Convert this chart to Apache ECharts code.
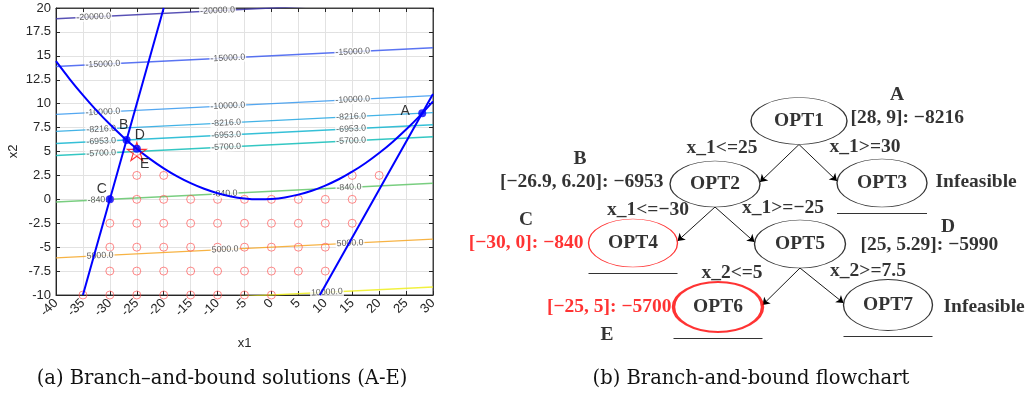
<!DOCTYPE html>
<html><head><meta charset="utf-8">
<script src="https://cdn.jsdelivr.net/npm/echarts@6/dist/echarts.min.js"></script>
<style>html,body{margin:0;padding:0;background:#fff}#c{width:1027px;height:398px}</style>
</head><body><div id="c"></div><script>
// ---------- Panel (a) data ----------
const parabolaX1 = [-40,-37.5,-35,-32.5,-30,-27.5,-25,-22.5,-20,-17.5,-15,-12.5,-10,-7.5,-5,-2.5,0,2.5,5,7.5,10,12.5,15,17.5,20,22.5,25,27.5,30];
const parabolaX2 = [14.44,12.60,10.89,9.30,7.84,6.50,5.29,4.20,3.24,2.40,1.69,1.10,0.64,0.30,0.09,0.00,0.04,0.20,0.49,0.90,1.44,2.10,2.89,3.80,4.84,6.00,7.29,8.70,10.24];
const steepLineX1 = [-35, -20];
const steepLineX2 = [-10, 20];
const rightLineX1 = [9, 30];
const rightLineX2 = [-10, 11];
const contourLevels   = [-20000, -15000, -10000, -8216, -6953, -5700, -840, 5000, 10000];
const contourX2AtLeft  = [18.88, 13.88, 8.88, 7.10, 5.83, 4.58, -0.28, -6.12, -11.12]; // x1 = -40
const contourX2AtRight = [20.84, 15.84, 10.84, 9.06, 7.79, 6.54, 1.68, -4.16, -9.16];   // x1 = 30
const contourLabelX1 = [[-33,-10],[-31.3,-8.1,15.1],[-31.3,-8.1,15.1],[-31.6,-8.4,14.8],[-31.6,-8.4,14.8],[-31.6,-8.4,14.8],[-31.8,-8.6,14.4],[-31.8,-8.6,14.6],[10.3]];
const circleX1 = [-25,-25,-20,15,20, -30,-25,-20,-15,-10,-5,0,5,10,15, -30,-25,-20,-15,-10,-5,0,5,10,15, -30,-25,-20,-15,-10,-5,0,5,10, -30,-25,-20,-15,-10,-5,0,5,10, -35,-30,-25,-20,-15,-10,-5,0];
const circleX2 = [5,2.5,2.5,2.5,2.5, 0,0,0,0,0,0,0,0,0,0, -2.5,-2.5,-2.5,-2.5,-2.5,-2.5,-2.5,-2.5,-2.5,-2.5, -5,-5,-5,-5,-5,-5,-5,-5,-5, -7.5,-7.5,-7.5,-7.5,-7.5,-7.5,-7.5,-7.5,-7.5, -10,-10,-10,-10,-10,-10,-10,-10];
const pointNames = ['A','B','C','D'];
const pointX1 = [28, -26.9, -30, -25];
const pointX2 = [9, 6.2, 0, 5.29];
const starName = ['E'];
const starX1 = [-25];
const starX2 = [5];

// ---------- Panel (b) data ----------
const nodeNames = ['OPT1','OPT2','OPT3','OPT4','OPT5','OPT6','OPT7'];
const nodeResults = ['[28, 9]: \u22128216','[\u221226.9, 6.20]: \u22126953','Infeasible','[\u221230, 0]: \u2212840','[25, 5.29]: \u22125990','[\u221225, 5]: \u22125700','Infeasible'];
const nodeTags = ['A','B','','C','D','E',''];
const edgeFrom = ['OPT1','OPT1','OPT2','OPT2','OPT5','OPT5'];
const edgeTo   = ['OPT2','OPT3','OPT4','OPT5','OPT6','OPT7'];
const edgeLabels = ['x_1<=25','x_1>=30','x_1<=\u221230','x_1>=\u221225','x_2<=5','x_2>=7.5'];
const leafNodes = ['OPT3','OPT4','OPT6','OPT7'];

// ---------- styles / layout ----------
const contourColors = ['#3b33a8','#3d5cf0','#3598ee','#22a6e2','#12b5d0','#10bdb8','#62c66a','#f6a623','#eeee1c'];
const G = {left:56, top:8, width:377, height:287};
const nodeLayout = {
  OPT1:{c:[799,121], s:[96,47]}, OPT2:{c:[715,184], s:[90,46]}, OPT3:{c:[882,183], s:[90,48]},
  OPT4:{c:[633,243], s:[89,48], color:'#ff0000'}, OPT5:{c:[800,244], s:[91,48]},
  OPT6:{c:[718,307], s:[89,50], color:'#ff0000', w:2.6}, OPT7:{c:[888,305], s:[89,51]}
};
const resultLayout = [[850,118,'left'],[664,182,'right'],[935,182,'left'],[584,243,'right'],[860,245,'left'],[672,307,'right'],[943,307,'left']];
const resultColor = ['#000','#000','#000','#ff0000','#000','#ff0000','#000'];
const tagLayout = [[897,95],[580,159],null,[526,220],[948,227],[607,335],null];
const edgeLabelLayout = [[722,148],[865,147],[648,210],[783,208],[732,273],[868,271]];

const FS = 'Liberation Sans';
const SERIF = 'Liberation Serif';
const ellipsePath = 'path://M1,0C1,0.5523,0.5523,1,0,1C-0.5523,1,-1,0.5523,-1,0C-1,-0.5523,-0.5523,-1,0,-1C0.5523,-1,1,-0.5523,1,0Z';
const starPath = 'path://M0,-1L0.2245,-0.309L0.951,-0.309L0.363,0.118L0.588,0.809L0,0.382L-0.588,0.809L-0.363,0.118L-0.951,-0.309L-0.2245,-0.309Z';

const series = [];
// contour lines
contourLevels.forEach((lv, i) => {
  series.push({type:'line', xAxisIndex:0, yAxisIndex:0, silent:true, symbol:'none', clip:true, z:2,
    data:[[-40, contourX2AtLeft[i]],[30, contourX2AtRight[i]]],
    lineStyle:{color:contourColors[i], width:1.4, opacity:0.85}});
});
// contour labels
const labData = [];
contourLevels.forEach((lv, i) => {
  contourLabelX1[i].forEach(lx => {
    const t = (lx + 40) / 70;
    const y = contourX2AtLeft[i] + t * (contourX2AtRight[i] - contourX2AtLeft[i]);
    const ang = Math.atan(((contourX2AtRight[i]-contourX2AtLeft[i])/70) * (G.height/30) / (G.width/70)) * 180 / Math.PI;
    labData.push({value:[lx, y], name: lv.toFixed(1), label:{rotate: ang}});
  });
});
series.push({type:'scatter', xAxisIndex:0, yAxisIndex:0, silent:true, symbolSize:1, z:2,
  itemStyle:{color:'transparent'}, data:labData,
  label:{show:true, position:'inside', formatter:'{b}', fontFamily:FS, fontSize:8.8, color:'#333',
    backgroundColor:'#fff', padding:[0,1]}});
// red circles
series.push({type:'scatter', xAxisIndex:0, yAxisIndex:0, silent:true, symbol:'circle', symbolSize:8, z:2,
  data: circleX1.map((x,i)=>[x, circleX2[i]]),
  itemStyle:{color:'transparent', borderColor:'#ff5050', borderWidth:0.8, opacity:0.85}});
// blue curves
const blue = {color:'#0000ff', width:2};
series.push({type:'line', xAxisIndex:0, yAxisIndex:0, silent:true, symbol:'none', smooth:0.3, z:3,
  data: parabolaX1.map((x,i)=>[x, parabolaX2[i]]), lineStyle:blue});
series.push({type:'line', xAxisIndex:0, yAxisIndex:0, silent:true, symbol:'none', z:3,
  data: steepLineX1.map((x,i)=>[x, steepLineX2[i]]), lineStyle:blue});
series.push({type:'line', xAxisIndex:0, yAxisIndex:0, silent:true, symbol:'none', z:3,
  data: rightLineX1.map((x,i)=>[x, rightLineX2[i]]), lineStyle:blue});
// star E
series.push({type:'scatter', xAxisIndex:0, yAxisIndex:0, silent:true, symbol:starPath, symbolKeepAspect:true, symbolSize:19, z:4,
  data: starX1.map((x,i)=>({value:[x, starX2[i]], name:starName[i]})),
  itemStyle:{color:'transparent', borderColor:'#ff0000', borderWidth:1.1},
  label:{show:true, formatter:'{b}', position:'inside', offset:[8,13], fontFamily:FS, fontSize:14, color:'#000'}});
// solution points
const ptOffsets = {A:[-17,-2], B:[-3,-15], C:[-8,-10], D:[3,-14]};
series.push({type:'scatter', xAxisIndex:0, yAxisIndex:0, silent:true, symbol:'circle', symbolSize:8, z:5,
  data: pointX1.map((x,i)=>({value:[x, pointX2[i]], name:pointNames[i], label:{offset:ptOffsets[pointNames[i]]}})),
  itemStyle:{color:'#0000ff'},
  label:{show:true, formatter:'{b}', position:'inside', fontFamily:FS, fontSize:14, color:'#000'}});

// ---------- Panel (b) ----------
series.push({type:'scatter', xAxisIndex:1, yAxisIndex:1, silent:true, symbol:ellipsePath, z:3,
  data: nodeNames.map(n => ({value: nodeLayout[n].c, name:n, symbolSize: nodeLayout[n].s,
    itemStyle:{color:'#fff', borderColor: nodeLayout[n].color || '#000', borderWidth: nodeLayout[n].w || 1}})),
  label:{show:true, position:'inside', formatter:'{b}', fontFamily:SERIF, fontWeight:'bold', fontSize:19.5, color:'#000'}});
// arrows
series.push({type:'lines', coordinateSystem:'cartesian2d', xAxisIndex:1, yAxisIndex:1, silent:true, z:2,
  symbol:['none','arrow'], symbolSize:7,
  lineStyle:{color:'#000', width:0.9, opacity:1},
  data: edgeFrom.map((f,i) => {
    const a = nodeLayout[f], b = nodeLayout[edgeTo[i]];
    const sx = a.c[0], sy = a.c[1] + a.s[1]/2;
    const ex = b.c[0] < sx ? b.c[0] + b.s[0]/2 : b.c[0] - b.s[0]/2;
    return {coords:[[sx, sy],[ex, b.c[1]-2]]};
  })});
// underlines
series.push({type:'lines', coordinateSystem:'cartesian2d', xAxisIndex:1, yAxisIndex:1, silent:true, z:2,
  symbol:['none','none'], lineStyle:{color:'#333', width:1.2, opacity:1},
  data: leafNodes.map(n => { const L = nodeLayout[n]; const y = L.c[1] + L.s[1]/2 + 6;
    return {coords:[[L.c[0]-L.s[0]/2, y],[L.c[0]+L.s[0]/2, y]]}; })});
// texts
const txt = [];
nodeResults.forEach((r,i) => {
  const L = resultLayout[i];
  txt.push({value:[L[0], L[1]], name:r, label:{position: L[2]==='left' ? 'right' : 'left', distance:0, color: resultColor[i]}});
});
nodeTags.forEach((t,i) => { if (t) txt.push({value: tagLayout[i], name:t, label:{position:'inside'}}); });
edgeLabels.forEach((t,i) => txt.push({value: edgeLabelLayout[i], name:t, label:{position:'inside'}}));
series.push({type:'scatter', xAxisIndex:1, yAxisIndex:1, silent:true, symbolSize:1, z:4,
  itemStyle:{color:'transparent'}, data: txt,
  label:{show:true, formatter:'{b}', fontFamily:SERIF, fontWeight:'bold', fontSize:19.5, color:'#000'}});

const axisCol = '#262626';
const option = {
  animation:false,
  backgroundColor:'#fff',
  title:[
    {text:'(a) Branch\u2013and-bound solutions (A-E)', left:217, top:364, textAlign:'center',
      textStyle:{fontFamily:'DejaVu Serif', fontWeight:'normal', fontSize:19.5, color:'#111'}},
    {text:'(b) Branch-and-bound flowchart', left:746, top:364, textAlign:'center',
      textStyle:{fontFamily:'DejaVu Serif', fontWeight:'normal', fontSize:19.5, color:'#111'}}
  ],
  grid:[
    {left:G.left, top:G.top, width:G.width, height:G.height, show:true, borderColor:'#404040', borderWidth:1, backgroundColor:'#fff', containLabel:false, outerBoundsMode:'none'},
    {left:460, top:0, width:567, height:398, show:false, containLabel:false, outerBoundsMode:'none'}
  ],
  xAxis:[
    {type:'value', gridIndex:0, min:-40, max:30, interval:5, position:'bottom',
      axisLine:{show:true, onZero:false, lineStyle:{color:axisCol, width:1}},
      axisTick:{show:true, inside:true, length:4, lineStyle:{color:axisCol}},
      axisLabel:{rotate:45, fontFamily:FS, fontSize:13, color:axisCol, margin:6},
      splitLine:{show:true, lineStyle:{color:'#e2e2e2', width:1}},
      name:'x1', nameLocation:'middle', nameGap:42, nameTextStyle:{fontFamily:FS, fontSize:13, color:axisCol}},
    {type:'value', gridIndex:1, min:460, max:1027, show:false},
    {type:'value', gridIndex:0, min:-40, max:30, interval:5, position:'top',
      axisLine:{show:true, onZero:false, lineStyle:{color:'#404040', width:1}},
      axisTick:{show:true, inside:true, length:4, lineStyle:{color:axisCol}},
      axisLabel:{show:false}, splitLine:{show:false}}
  ],
  yAxis:[
    {type:'value', gridIndex:0, min:-10, max:20, interval:2.5, position:'left',
      axisLine:{show:true, onZero:false, lineStyle:{color:axisCol, width:1}},
      axisTick:{show:true, inside:true, length:4, lineStyle:{color:axisCol}},
      axisLabel:{fontFamily:FS, fontSize:13, color:axisCol, margin:5},
      splitLine:{show:true, lineStyle:{color:'#e2e2e2', width:1}},
      name:'x2', nameLocation:'middle', nameGap:36, nameRotate:90, nameTextStyle:{fontFamily:FS, fontSize:13, color:axisCol}},
    {type:'value', gridIndex:1, min:0, max:398, inverse:true, show:false},
    {type:'value', gridIndex:0, min:-10, max:20, interval:2.5, position:'right',
      axisLine:{show:true, onZero:false, lineStyle:{color:'#404040', width:1}},
      axisTick:{show:true, inside:true, length:4, lineStyle:{color:axisCol}},
      axisLabel:{show:false}, splitLine:{show:false}}
  ],
  series: series
};
const chart = echarts.init(document.getElementById('c'), null, {renderer:'canvas'});
chart.setOption(option);
</script></body></html>
